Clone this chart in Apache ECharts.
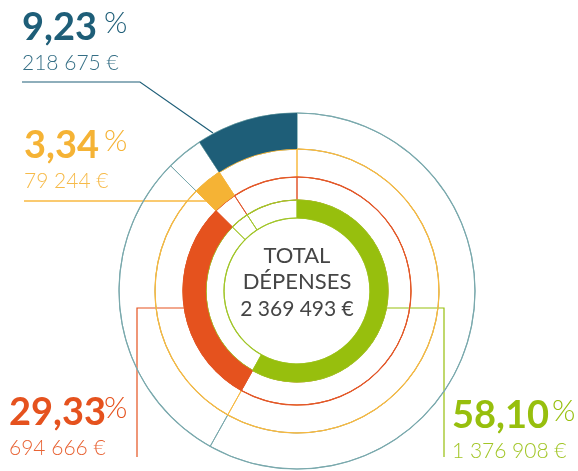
<!DOCTYPE html>
<html>
<head>
<meta charset="utf-8">
<script src="https://cdn.jsdelivr.net/npm/echarts@6/dist/echarts.min.js"></script>
<style>
  html, body { margin: 0; padding: 0; background: #fff; }
  #chart { width: 578px; height: 471px; }
</style>
</head>
<body>
<div id="chart"></div>
<script>
// data, in ring order from the inside out
const categories = ['vert', 'rouge', 'orange', 'bleu'];
const amounts = [1376908, 694666, 79244, 218675];
const shares = ['58,10', '29,33', '3,34', '9,23'];
const amountLabels = ['1 376 908 €', '694 666 €', '79 244 €', '218 675 €'];
const totalLabel = '2 369 493 €';

// ring geometry + colours (one ring per category)
const cx = 297, cy = 291;
const rings = [
  { r: [73, 91], line: '#a2c62a', fill: '#97bf0d' },
  { r: [91, 114], line: '#e2562c', fill: '#e5521e' },
  { r: [114, 142], line: '#f8b940', fill: '#f5b335' },
  { r: [142, 178], line: '#7aa9ad', fill: '#1e5e78' }
];
// full thin circles: radius + colour
const circles = [
  [73, rings[0].line], [91, rings[0].line], [114, rings[1].line],
  [142, rings[2].line], [178, rings[3].line]
];

const base = {
  type: 'pie',
  center: [cx, cy],
  startAngle: 90,
  silent: true,
  label: { show: false },
  labelLine: { show: false },
  emphasis: { disabled: true }
};

const series = [];
// radial separators, outer rings first
for (let i = rings.length - 1; i >= 0; i--) {
  series.push(Object.assign({}, base, {
    radius: rings[i].r,
    itemStyle: { color: 'transparent', borderColor: rings[i].line, borderWidth: 1 },
    data: amounts.map((v, j) => ({ name: categories[j], value: v }))
  }));
}
// thin circles drawn as hairline rings so colours don't mix
circles.forEach(c => {
  series.push(Object.assign({}, base, {
    radius: [c[0] - 0.6, c[0] + 0.6],
    itemStyle: { color: c[1], borderWidth: 0 },
    data: [{ value: 1 }]
  }));
});
// filled segment of each ring
rings.forEach((ring, i) => {
  series.push(Object.assign({}, base, {
    radius: ring.r,
    data: amounts.map((v, j) => ({
      name: categories[j],
      value: v,
      itemStyle: { color: j === i ? ring.fill : 'transparent', borderWidth: 0 }
    }))
  }));
});

const numFont = 'bold 38px Lato, "Open Sans", sans-serif';
const pctFont = '300 30px Lato, "Open Sans", sans-serif';
const amtFont = '300 21px Lato, "Open Sans", sans-serif';

function label(x, y, i, pctGap) {
  const c = rings[i].fill;
  return [
    { type: 'text', x: x, y: y, style: { text: shares[i], font: numFont, fill: c, verticalAlign: 'middle' } },
    { type: 'text', x: x + pctGap, y: y - 5, style: { text: '%', font: pctFont, fill: c, verticalAlign: 'middle' } },
    { type: 'text', x: x, y: y + 35, style: { text: amountLabels[i], font: amtFont, fill: c, verticalAlign: 'middle', opacity: 0.9 } }
  ];
}

const graphic = [
  // centre text
  { type: 'text', x: cx, y: 256, style: { text: 'TOTAL', font: '22px Lato, sans-serif', fill: '#454545', align: 'center', verticalAlign: 'middle' } },
  { type: 'text', x: cx, y: 282, style: { text: 'DÉPENSES', font: '22px Lato, sans-serif', fill: '#454545', align: 'center', verticalAlign: 'middle' } },
  { type: 'text', x: cx, y: 309, style: { text: totalLabel, font: '21px Lato, sans-serif', fill: '#454545', align: 'center', verticalAlign: 'middle' } },
  // leader lines
  { type: 'polyline', shape: { points: [[213, 133], [140, 82], [22, 82]] }, style: { stroke: rings[3].fill, lineWidth: 1.2, fill: null } },
  { type: 'polyline', shape: { points: [[206, 201], [24, 201]] }, style: { stroke: rings[2].line, lineWidth: 1.5, fill: null } },
  { type: 'polyline', shape: { points: [[184, 308], [137, 308], [137, 457]] }, style: { stroke: rings[1].fill, lineWidth: 1.2, fill: null } },
  { type: 'polyline', shape: { points: [[386, 308], [444, 308], [444, 457]] }, style: { stroke: rings[0].fill, lineWidth: 1.2, fill: null } }
]
  .concat(label(22, 28, 3, 82))
  .concat(label(24, 146, 2, 80))
  .concat(label(9, 413, 1, 95))
  .concat(label(452, 416, 0, 100));

const chart = echarts.init(document.getElementById('chart'));
chart.setOption({
  animation: false,
  backgroundColor: '#fff',
  series: series,
  graphic: graphic
});
</script>
</body>
</html>
